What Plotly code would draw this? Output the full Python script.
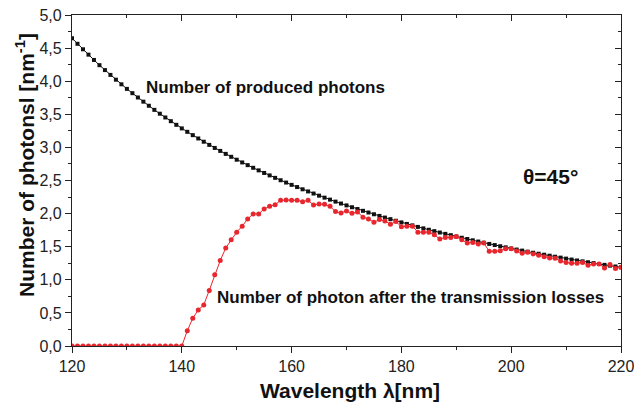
import plotly.graph_objects as go

wavelength = list(range(120, 221))

produced = [
    4.650, 4.565, 4.482, 4.401, 4.321, 4.242, 4.168, 4.095, 4.023, 3.953,
    3.884, 3.819, 3.754, 3.691, 3.629, 3.567, 3.509, 3.452, 3.396, 3.341,
    3.287, 3.235, 3.185, 3.135, 3.086, 3.038, 2.992, 2.947, 2.902, 2.858,
    2.814, 2.773, 2.732, 2.692, 2.653, 2.614, 2.577, 2.540, 2.504, 2.469,
    2.434, 2.401, 2.367, 2.335, 2.303, 2.271, 2.241, 2.211, 2.181, 2.152,
    2.124, 2.096, 2.069, 2.042, 2.016, 1.990, 1.965, 1.940, 1.916, 1.892,
    1.867, 1.844, 1.822, 1.799, 1.777, 1.756, 1.735, 1.714, 1.694, 1.674,
    1.654, 1.635, 1.616, 1.597, 1.578, 1.560, 1.542, 1.525, 1.507, 1.490,
    1.473, 1.457, 1.441, 1.425, 1.409, 1.394, 1.379, 1.364, 1.349, 1.335,
    1.320, 1.306, 1.292, 1.279, 1.265, 1.252, 1.239, 1.226, 1.214, 1.201,
    1.189,
]

transmitted = [
    0.0, 0.0, 0.0, 0.0, 0.0, 0.0, 0.0, 0.0, 0.0, 0.0,
    0.0, 0.0, 0.0, 0.0, 0.0, 0.0, 0.0, 0.0, 0.0, 0.0,
    0.0, 0.23, 0.42, 0.545, 0.62, 0.84, 1.075, 1.29, 1.48, 1.605,
    1.72, 1.81, 1.92, 1.995, 1.995, 2.07, 2.11, 2.135, 2.20, 2.205,
    2.20, 2.20, 2.18, 2.20, 2.13, 2.145, 2.14, 2.11, 2.03, 2.01,
    2.04, 2.005, 2.025, 1.945, 1.92, 1.87, 1.91, 1.89, 1.84, 1.88,
    1.80, 1.81, 1.81, 1.72, 1.72, 1.72, 1.68, 1.615, 1.64, 1.64,
    1.655, 1.605, 1.555, 1.565, 1.54, 1.555, 1.43, 1.43, 1.44, 1.47,
    1.47, 1.435, 1.40, 1.415, 1.39, 1.37, 1.35, 1.33, 1.325, 1.285,
    1.26, 1.25, 1.25, 1.26, 1.22, 1.24, 1.24, 1.18, 1.23, 1.17,
    1.19,
]

x_ticks = [120, 140, 160, 180, 200, 220]
y_ticks = [0.0, 0.5, 1.0, 1.5, 2.0, 2.5, 3.0, 3.5, 4.0, 4.5, 5.0]

x_title = "Wavelength λ[nm]"
y_title = "Number of photonsl [nm<sup>-1</sup>]"
label_produced = "Number of photon after the transmission losses"
label_top = "Number of produced photons"
label_angle = "θ=45°"

RED = "#e8262d"
AX = "#222222"
FONT = "Liberation Sans, Arial, sans-serif"

fig = go.Figure()
fig.add_trace(go.Scatter(
    x=wavelength, y=produced, mode="lines+markers",
    line=dict(color="#111111", width=1),
    marker=dict(symbol="square", size=4, color="#111111"),
    hoverinfo="skip", showlegend=False))
fig.add_trace(go.Scatter(
    x=wavelength, y=transmitted, mode="lines+markers",
    line=dict(color=RED, width=1),
    marker=dict(symbol="circle", size=5, color=RED),
    hoverinfo="skip", showlegend=False))
# invisible trace to activate mirrored (inside-tick) axes
fig.add_trace(go.Scatter(
    x=wavelength, y=produced, xaxis="x2", yaxis="y2", mode="lines",
    line=dict(color="rgba(0,0,0,0)", width=0),
    hoverinfo="skip", showlegend=False))

common = dict(showgrid=False, zeroline=False, showline=True, linecolor=AX, linewidth=1.2,
              tickcolor=AX, tickwidth=1.2, automargin=False)

fig.update_layout(
    width=634, height=406,
    margin=dict(l=72, r=13, t=15, b=60, autoexpand=False),
    paper_bgcolor="white", plot_bgcolor="white",
    separators=",.",
    font=dict(family=FONT, color=AX, size=16),
    xaxis=dict(range=[120, 220], tickvals=x_ticks, ticks="outside", ticklen=6,
               ticklabeloverflow="allow",
               minor=dict(dtick=10, ticks="outside", ticklen=3, tickcolor=AX, tickwidth=1.2),
               tickfont=dict(size=16, family=FONT, color=AX), **common),
    yaxis=dict(range=[0, 5.0], tickvals=y_ticks, tickformat=".1f", ticks="outside", ticklen=6,
               ticklabeloverflow="allow",
               minor=dict(dtick=0.25, ticks="outside", ticklen=3, tickcolor=AX, tickwidth=1.2),
               tickfont=dict(size=16, family=FONT, color=AX), **common),
    xaxis2=dict(overlaying="x", side="top", matches="x", range=[120, 220], tickvals=x_ticks,
                ticks="inside", ticklen=6, showticklabels=False,
                minor=dict(dtick=10, ticks="inside", ticklen=3, tickcolor=AX, tickwidth=1.2),
                **common),
    yaxis2=dict(overlaying="y", side="right", matches="y", range=[0, 5.0], tickvals=y_ticks,
                ticks="inside", ticklen=6, showticklabels=False,
                minor=dict(dtick=0.25, ticks="inside", ticklen=3, tickcolor=AX, tickwidth=1.2),
                **common),
)

bold = dict(family=FONT, color="#111111")
fig.add_annotation(text=f"<b>{x_title}</b>", xref="paper", yref="paper", x=0.506, y=-0.133,
                   showarrow=False, xanchor="center", yanchor="middle", font=dict(size=21, **bold))
fig.add_annotation(text=f"<b>{y_title}</b>", xref="paper", yref="paper", x=-0.0856, y=0.547,
                   textangle=-90, showarrow=False, xanchor="center", yanchor="middle",
                   font=dict(size=21, **bold))
fig.add_annotation(text=f"<b>{label_top}</b>", x=155.2, y=3.91, showarrow=False,
                   xanchor="center", yanchor="middle", font=dict(size=17, **bold))
fig.add_annotation(text=f"<b>{label_produced}</b>", x=181.7, y=0.74, showarrow=False,
                   xanchor="center", yanchor="middle", font=dict(size=17, **bold))
fig.add_annotation(text=f"<b>{label_angle}</b>", x=207.2, y=2.56, showarrow=False,
                   xanchor="center", yanchor="middle", font=dict(size=21, **bold))

fig.write_html("out.html", config={"displayModeBar": False},
               post_script="document.body.style.margin='0';document.body.style.padding='0';")
